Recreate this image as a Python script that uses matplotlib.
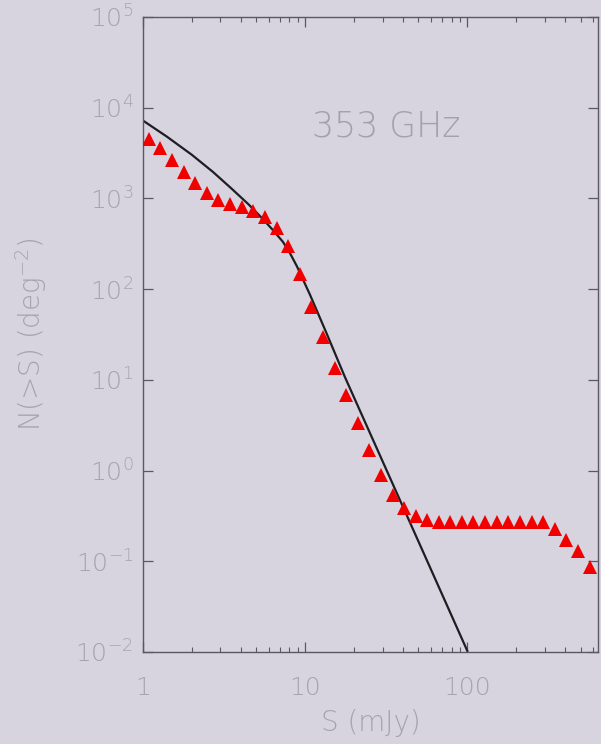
import numpy as np
import matplotlib
matplotlib.use("Agg")
import matplotlib.pyplot as plt
from matplotlib.ticker import NullLocator, NullFormatter

plt.rcParams['font.family'] = ['DejaVu Sans']
plt.rcParams['font.weight'] = 'light'
plt.rcParams['axes.labelweight'] = 'light'
plt.rcParams['mathtext.default'] = 'regular'

# counts N(>S) at 353 GHz, simulated catalogue (triangles)
flux = [1.09, 1.28, 1.51, 1.79, 2.10, 2.48, 2.92, 3.45, 4.06, 4.79,
        5.65, 6.66, 7.85, 9.26, 10.9, 12.9, 15.2, 17.9, 21.1, 24.9,
        29.3, 34.6, 40.7, 48.0, 56.6, 66.8, 78.7, 92.8, 109, 129,
        152, 179, 211, 249, 294, 346, 408, 481, 568]
counts = [4520, 3600, 2650, 1950, 1480, 1150, 960, 870, 800, 725,
          624, 471, 298, 147, 63.5, 29.7, 13.5, 6.8, 3.34, 1.68,
          0.89, 0.54, 0.386, 0.315, 0.285, 0.27, 0.27, 0.27, 0.27, 0.27,
          0.27, 0.27, 0.27, 0.27, 0.27, 0.226, 0.171, 0.129, 0.086]

# model counts (solid line)
model_flux = [1.0, 1.4, 2.0, 2.7, 3.5, 4.5, 5.5, 6.4, 7.3, 8.1, 8.9,
              10.7, 13.5, 17.6, 30.0, 50.0, 100.0]
model_counts = [7200, 4808, 3024, 1957, 1291, 851, 589, 437, 331, 245, 178,
                87, 33.1, 10.7, 1.27, 0.165, 0.0103]

bg = '#d7d3df'
grey_txt = '#a6a4ad'
spine_col = '#5a5860'

fig = plt.figure(figsize=(6.01, 7.44), dpi=100, facecolor=bg)
ax = fig.add_axes([0.238, 0.1237, 0.757, 0.8535], facecolor=bg)

ax.plot(model_flux, model_counts, color='#1e1e22', lw=1.6, zorder=2)
ax.plot(flux, counts, linestyle='none', marker='^', ms=10.5,
        color='#f20000', markeredgewidth=0, zorder=3)

ax.set_xscale('log')
ax.set_yscale('log')
ax.set_xlim(1, 640)
ax.set_ylim(1e-2, 1e5)

ax.set_xticks([1, 10, 100])
ax.set_xticklabels(['1', '10', '100'])
ax.xaxis.set_minor_formatter(NullFormatter())
ax.yaxis.set_minor_locator(NullLocator())

for s in ax.spines.values():
    s.set_color(spine_col)
    s.set_linewidth(1.0)

ax.tick_params(which='both', direction='in', top=True, right=True,
               color=spine_col, labelcolor=grey_txt)
ax.tick_params(which='major', length=7, width=0.9, labelsize=18)
ax.tick_params(which='minor', length=3.5, width=0.8)
ax.tick_params(axis='x', which='major', pad=17)
ax.tick_params(axis='y', which='major', pad=7)

ax.set_xlabel('S (mJy)', fontsize=20, color=grey_txt, labelpad=7,
              fontweight='light')
ax.set_ylabel(r'N(>S) (deg$^{-2}$)', fontsize=20, color=grey_txt, labelpad=19,
              fontweight='light')

ax.text(0.534, 0.828, '353 GHz', transform=ax.transAxes, fontsize=25,
        color='#a3a1aa', ha='center', va='center')

plt.savefig('out.png', dpi=100, facecolor=bg)
